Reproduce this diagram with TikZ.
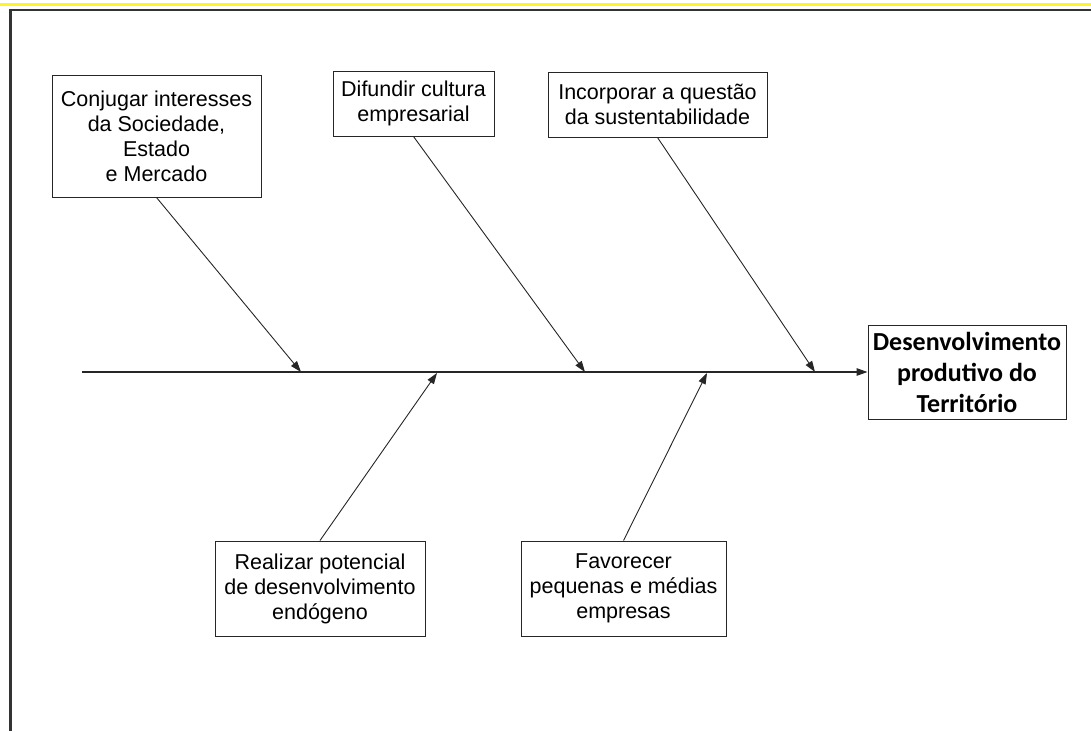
\documentclass[tikz,border=0pt]{standalone}
\usepackage{fontspec}
\setmainfont{Liberation Sans}
\newfontfamily\efeito{Carlito}
\usepackage{tikz}
\usetikzlibrary{arrows.meta}
\tikzset{causa/.style={draw=black!85, line width=1pt, align=center, inner sep=2pt,
    font=\fontsize{21.5}{25}\selectfont}}
\tikzset{seta/.style={-{Triangle[length=11pt,width=7.5pt]}, line width=0.9pt, black!85}}

\begin{document}
\begin{tikzpicture}[x=1pt,y=-1pt]
\useasboundingbox (0,0) rectangle (1091,731);
% moldura
\fill[yellow!85!white] (0,2.7) rectangle (1091,5.7);
\draw[line width=2.2pt, black!80] (10.5,731) -- (10.5,10) -- (1091,10);
% espinha
\node[draw=black!85, line width=1pt, align=center, minimum width=198pt, minimum height=94pt,
  font=\efeito\bfseries\fontsize{26}{31}\selectfont] (efeito) at (967,372)
  {Desenvolvimento\\produtivo do\\Território};
\coordinate (inicio) at (82,372);
\draw[seta, line width=1.3pt] (inicio) -- (efeito.west);
% causas de cima
\node[causa, minimum width=209pt, minimum height=122pt] (c1) at (156.5,136)
  {Conjugar interesses\\da Sociedade,\\Estado\\ e Mercado};
\node[causa, minimum width=161pt, minimum height=65pt] (c2) at (413.5,103.5)
  {Difundir cultura\\empresarial};
\node[causa, minimum width=219pt, minimum height=65pt] (c3) at (657.5,104.5)
  {Incorporar a questão\\da sustentabilidade};
% causas de baixo
\node[causa, minimum width=210pt, minimum height=95pt] (c4) at (320,588.5)
  {Realizar potencial\\de desenvolvimento\\endógeno};
\node[causa, minimum width=205pt, minimum height=95pt] (c5) at (623.5,588.5)
  {Favorecer\\pequenas e médias\\empresas};
% pontos na espinha
\coordinate (p1) at (301,372);
\coordinate (p2) at (585,372);
\coordinate (p3) at (815,372);
\coordinate (p4) at (437,373);
\coordinate (p5) at (707,373);
\foreach \c/\p in {c1/p1,c2/p2,c3/p3} {
\draw[seta] (\c.south) -- (\p);
}
\foreach \c/\p in {c4/p4,c5/p5} {
\draw[seta] (\c.north) -- (\p);
}
\end{tikzpicture}
\end{document}
